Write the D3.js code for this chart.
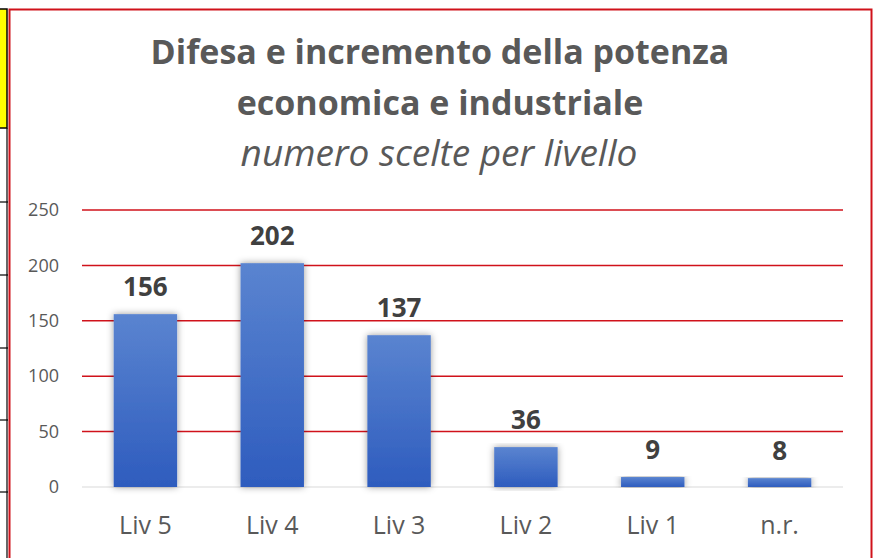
<html>
  <head>
    <meta charset="utf-8">
    <title>Difesa e incremento della potenza</title>
  </head>
  <style>
    body { margin: 0; background: #fff; }
    text { font-family: "Open Sans", "Noto Sans", sans-serif; }
  </style>
<body>
<script src="https://cdn.jsdelivr.net/npm/d3@7"></script>
<script>

var categorie = ["Liv 5", "Liv 4", "Liv 3", "Liv 2", "Liv 1", "n.r."];
var valori    = [156, 202, 137, 36, 9, 8];
var tickY     = [0, 50, 100, 150, 200, 250];
var titolo    = ["Difesa e incremento della potenza", "economica e industriale"];
var sottotitolo = "numero scelte per livello";

var width  = 873;
var height = 558;

var svg = d3.select("body")
            .append("svg")
            .attr("width", width)
            .attr("height", height);

// pezzo di foglio Excel a sinistra
svg.append("rect").attr("x", -2).attr("y", 9).attr("width", 9).attr("height", 119)
   .attr("fill", "#ffff00").attr("stroke", "#000").attr("stroke-width", 1.5);
[202, 275, 348, 420, 492].forEach(function(y){
  svg.append("line").attr("x1", 0).attr("x2", 8).attr("y1", y).attr("y2", y)
     .attr("stroke", "#000").attr("stroke-width", 1.2);
});
svg.append("line").attr("x1", 7).attr("x2", 7).attr("y1", 128).attr("y2", height)
   .attr("stroke", "#000").attr("stroke-width", 1.2);

// bordo del grafico
svg.append("rect").attr("x", 9.5).attr("y", 9.5).attr("width", 862).attr("height", 560)
   .attr("fill", "#fff").attr("stroke", "#d0121b").attr("stroke-width", 2);

var defs = svg.append("defs");
var grad = defs.append("linearGradient").attr("id", "grad")
               .attr("x1", 0).attr("y1", 0).attr("x2", 0).attr("y2", 1);
grad.append("stop").attr("offset", "0%").attr("stop-color", "#5a84d0");
grad.append("stop").attr("offset", "100%").attr("stop-color", "#2e5cbe");

var filtro = defs.append("filter").attr("id", "ombra")
                 .attr("x", "-30%").attr("y", "-10%").attr("width", "160%").attr("height", "120%");
filtro.append("feDropShadow").attr("dx", 0).attr("dy", 0).attr("stdDeviation", 3.5)
      .attr("flood-color", "#000").attr("flood-opacity", 0.4);

var x = d3.scaleBand().domain(categorie).range([82, 843]).paddingInner(0.5).paddingOuter(0.25);
var y = d3.scaleLinear().domain([0, 250]).range([487, 210]);

// titolo
svg.append("text").attr("x", 440).attr("y", 64).attr("text-anchor", "middle")
   .attr("font-size", 34).attr("font-weight", "bold").attr("fill", "#595959")
   .text(titolo[0]);
svg.append("text").attr("x", 440).attr("y", 115).attr("text-anchor", "middle")
   .attr("font-size", 34).attr("font-weight", "bold").attr("fill", "#595959")
   .text(titolo[1]);
svg.append("text").attr("x", 439).attr("y", 166).attr("text-anchor", "middle")
   .attr("font-size", 37).attr("font-style", "italic").attr("fill", "#595959")
   .text(sottotitolo);

// griglia
svg.append("g").selectAll("line")
   .data(tickY.filter(function(d){ return d > 0; }))
   .enter().append("line")
   .attr("x1", 82).attr("x2", 843)
   .attr("y1", function(d){ return y(d); })
   .attr("y2", function(d){ return y(d); })
   .attr("stroke", "#d0121b").attr("stroke-width", 1.5);

svg.append("line").attr("x1", 82).attr("x2", 843).attr("y1", y(0)).attr("y2", y(0))
   .attr("stroke", "#d9d9d9").attr("stroke-width", 1.2);

// asse y
var asseY = d3.axisLeft(y).tickValues(tickY).tickSize(0).tickPadding(0);
var gY = svg.append("g").attr("transform", "translate(59,0)").call(asseY);
gY.select(".domain").remove();
gY.selectAll("text").attr("font-size", 18).attr("fill", "#595959")
  .style("font-family", "'Open Sans', sans-serif");

// barre
svg.append("g").selectAll("rect")
   .data(valori)
   .enter().append("rect")
   .attr("x", function(d, i){ return x(categorie[i]); })
   .attr("y", function(d){ return y(d); })
   .attr("width", x.bandwidth())
   .attr("height", function(d){ return y(0) - y(d); })
   .attr("fill", "url(#grad)")
   .attr("filter", "url(#ombra)");

// etichette dati
svg.append("g").selectAll("text")
   .data(valori)
   .enter().append("text")
   .attr("x", function(d, i){ return x(categorie[i]) + x.bandwidth() / 2; })
   .attr("y", function(d){ return y(d) - 18; })
   .attr("text-anchor", "middle")
   .attr("font-size", 26).attr("font-weight", "bold").attr("fill", "#404040")
   .text(function(d){ return d; });

// asse x
var asseX = d3.axisBottom(x).tickSize(0).tickPadding(0);
var gX = svg.append("g").attr("transform", "translate(0,534)").call(asseX);
gX.select(".domain").remove();
gX.selectAll("text").attr("font-size", 25).attr("fill", "#595959")
  .attr("dy", 0)
  .style("font-family", "'Open Sans', sans-serif");

</script>
</body>
</html>
